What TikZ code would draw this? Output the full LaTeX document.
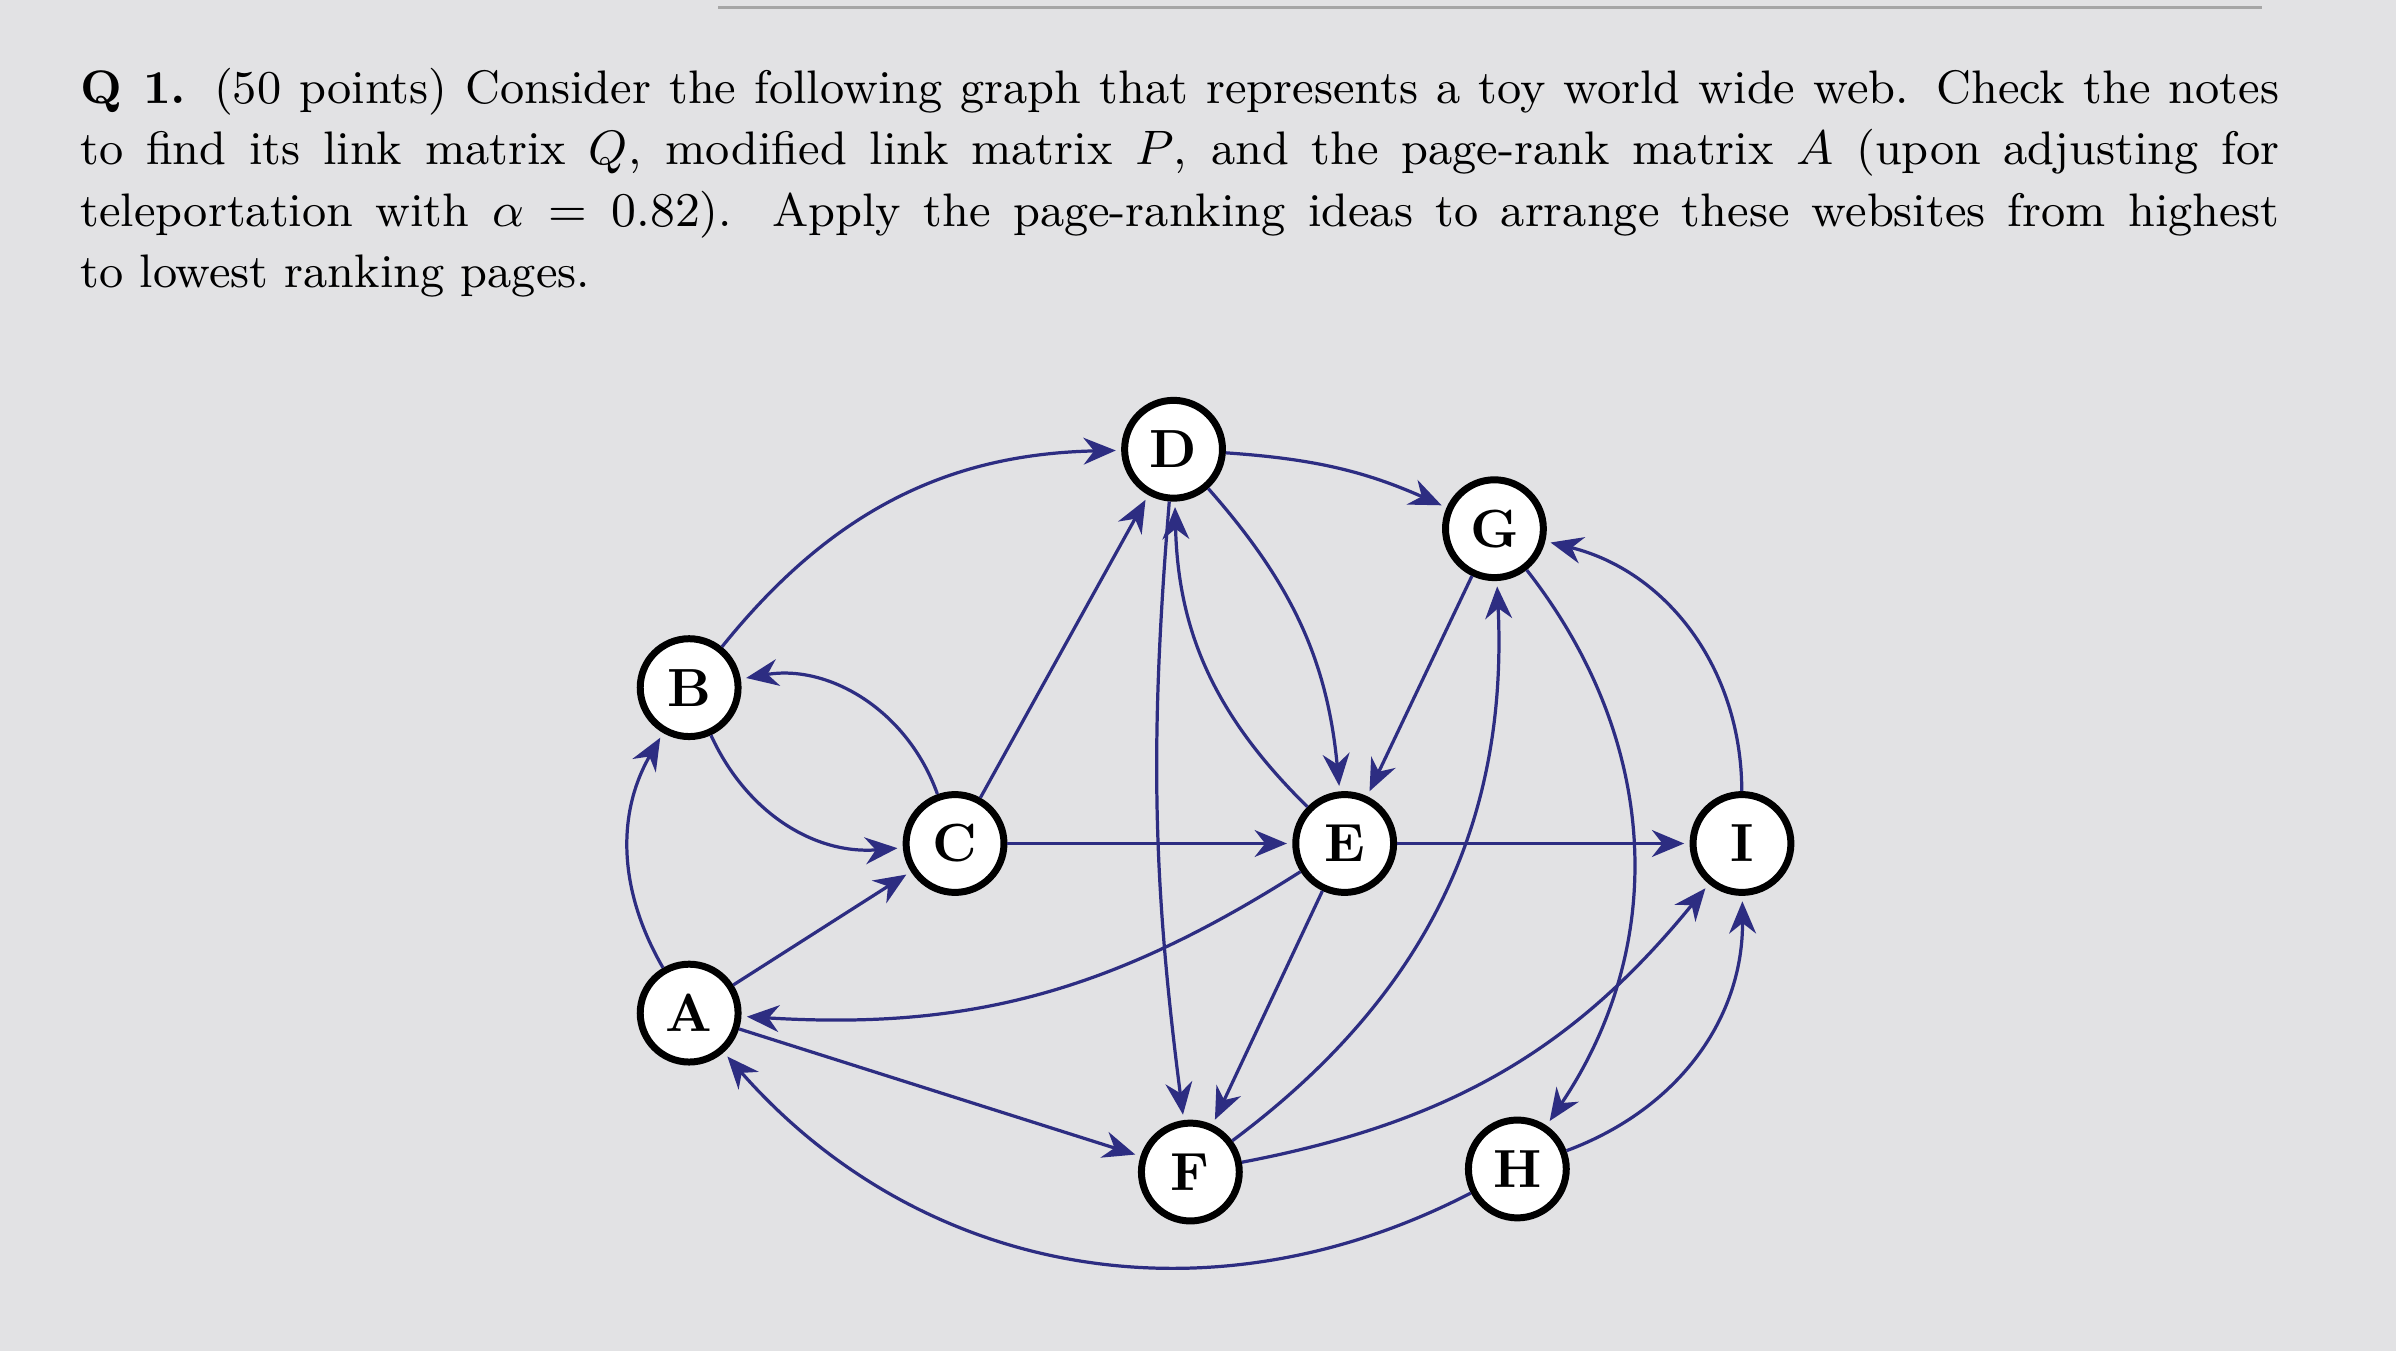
\documentclass[tikz,border=0pt]{standalone}
\usetikzlibrary{arrows.meta}
\definecolor{edge}{RGB}{45,45,130}
\definecolor{bg}{RGB}{226,226,228}
\begin{document}
\begin{tikzpicture}[x=0.01cm,y=-0.01cm,
  vert/.style={circle,draw=black,line width=1.3pt,fill=white,minimum size=0.64cm,inner sep=0pt,font=\bfseries},
  lnk/.style={draw=edge,line width=0.6pt,-{Stealth[length=6pt,width=5pt]},shorten >=1pt}]
\fill[bg] (0,0) rectangle (1568,884);
\useasboundingbox (0,0) rectangle (1568,884);
\draw[gray!70,line width=0.6pt] (470,5) -- (1480,5);
\node[anchor=north west,inner sep=0pt,text width=14.38cm,align=justify,font=\fontsize{8.75pt}{11.4pt}\selectfont] (txt) at (52,44)
{\textbf{Q 1.} (50 points) Consider the following graph that represents a toy world wide web. Check the notes\linebreak to find its link matrix $Q$, modified link matrix $P$, and the page-rank matrix $A$ (upon adjusting for\linebreak teleportation with $\alpha=0.82$). Apply the page-ranking ideas to arrange these websites from highest\linebreak to lowest ranking pages.};
\node[vert] (D) at (768,294) {D};
\node[vert] (G) at (978,346) {G};
\node[vert] (B) at (451,450) {B};
\node[vert] (C) at (625,552) {C};
\node[vert] (E) at (880,552) {E};
\node[vert] (I) at (1140,552) {I};
\node[vert] (A) at (451,663) {A};
\node[vert] (F) at (779,767) {F};
\node[vert] (H) at (993,765) {H};
\draw[lnk] (B) to[bend left=25] (D);
\draw[lnk] (D) to[bend left=10] (G);
\draw[lnk] (C) to[bend right=40] (B);
\draw[lnk] (B) to[bend right=35] (C);
\draw[lnk] (C) -- (D);
\draw[lnk] (C) -- (E);
\draw[lnk] (A) to[bend left=30] (B);
\draw[lnk] (A) -- (C);
\draw[lnk] (E) to[bend left=18] (A);
\draw[lnk] (A) -- (F);
\draw[lnk] (H) to[bend left=38] (A);
\draw[lnk] (D) to[bend right=6] (F);
\draw[lnk] (E) to[bend left=22] (D);
\draw[lnk] (D) to[bend left=18] (E);
\draw[lnk] (G) -- (E);
\draw[lnk] (E) -- (F);
\draw[lnk] (F) to[bend right=28] (G);
\draw[lnk] (E) -- (I);
\draw[lnk] (F) to[bend right=20] (I);
\draw[lnk] (G) to[bend left=36] (H);
\draw[lnk] (I) to[bend right=38] (G);
\draw[lnk] (H) to[bend right=35] (I);
\end{tikzpicture}
\end{document}
